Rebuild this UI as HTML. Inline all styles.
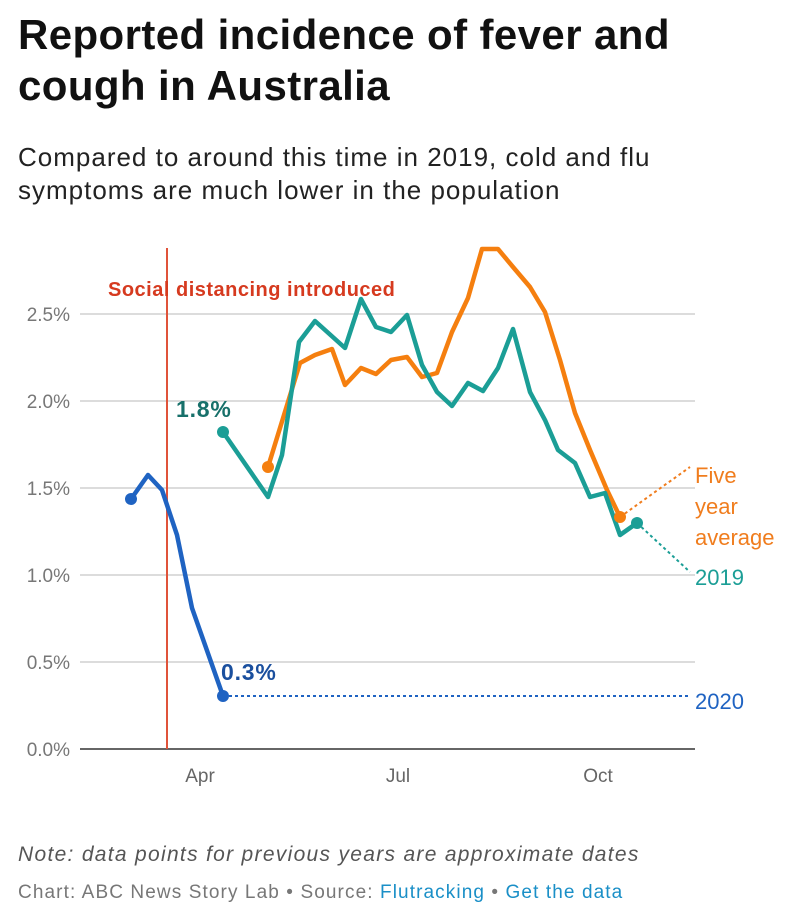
<!DOCTYPE html>
<html><head><meta charset="utf-8"><style>
body{margin:0;background:#fff;font-family:"Liberation Sans",sans-serif;}
.t{position:absolute;left:18px;top:9px;font-size:42px;font-weight:bold;line-height:51px;color:#111;letter-spacing:0.4px}
.s{position:absolute;left:18px;top:141px;font-size:26px;line-height:33px;color:#222;letter-spacing:1px}
</style></head><body>
<div class="t">Reported incidence of fever and<br>cough in Australia</div>
<div class="s">Compared to around this time in 2019, cold and flu<br>symptoms are much lower in the population</div>
<svg width="795" height="916" style="position:absolute;left:0;top:0" font-family="Liberation Sans, sans-serif">
<g stroke="#d0d0d0" stroke-width="1.5">
<line x1="80" x2="695" y1="314" y2="314"/><line x1="80" x2="695" y1="401" y2="401"/><line x1="80" x2="695" y1="488" y2="488"/><line x1="80" x2="695" y1="575" y2="575"/><line x1="80" x2="695" y1="662" y2="662"/>
</g>
<line x1="80" x2="695" y1="749" y2="749" stroke="#333" stroke-width="1.5"/>
<g font-size="19" fill="#777" text-anchor="end">
<text x="70" y="321">2.5%</text><text x="70" y="408">2.0%</text><text x="70" y="495">1.5%</text><text x="70" y="582">1.0%</text><text x="70" y="669">0.5%</text><text x="70" y="756">0.0%</text>
</g>
<g font-size="19" fill="#666" text-anchor="middle"><text x="200" y="782">Apr</text><text x="398" y="782">Jul</text><text x="598" y="782">Oct</text></g>
<line x1="167" x2="167" y1="248" y2="749" stroke="#e0533a" stroke-width="2"/>
<text x="108" y="296" font-size="20" font-weight="bold" fill="#d63a1f" letter-spacing="0.5">Social distancing introduced</text>
<g fill="none" stroke-width="2" stroke-dasharray="3,3">
<line x1="620" y1="517" x2="690" y2="467" stroke="#f07d1e"/>
<line x1="637" y1="523" x2="690" y2="572" stroke="#1b9e96"/>
<line x1="223" y1="696" x2="690" y2="696" stroke="#1f63c2"/>
</g>
<g fill="none" stroke-width="4.5" stroke-linejoin="round" stroke-linecap="round">
<polyline stroke="#f57f0f" points="268,467 300,363 315,355 332,349 345,385 361,368 376,374 391,360 407,357 422,377 437,373 452,332 468,298 482,249 498,249 513,267 530,287 545,312 560,360 575,413 590,450 607,490 620,517"/>
<polyline stroke="#1b9e96" points="223,432 268,497 282,455 299,342 315,321 345,348 361,299 376,327 391,332 407,315 422,365 437,392 452,406 468,383 483,391 498,368 513,329 530,392 545,420 558,450 575,463 590,497 605,493 620,535 637,523"/>
<polyline stroke="#1f63c2" points="131,499 148,475 162,490 177,535 192,608 223,696"/>
</g>
<circle cx="268" cy="467" r="6" fill="#f57f0f"/><circle cx="620" cy="517" r="6" fill="#f57f0f"/>
<circle cx="223" cy="432" r="6" fill="#1b9e96"/><circle cx="637" cy="523" r="6" fill="#1b9e96"/>
<circle cx="131" cy="499" r="6" fill="#1f63c2"/><circle cx="223" cy="696" r="6" fill="#1f63c2"/>
<text x="176" y="417" font-size="23" font-weight="bold" fill="#17706a" letter-spacing="0.8">1.8%</text>
<text x="221" y="680" font-size="23" font-weight="bold" fill="#1a4f9e" letter-spacing="0.8">0.3%</text>
<g font-size="22" fill="#f07d1e"><text x="695" y="483">Five</text><text x="695" y="514">year</text><text x="695" y="545">average</text></g>
<text x="695" y="585" font-size="22" fill="#1b9e96">2019</text>
<text x="695" y="709" font-size="22" fill="#1f63c2">2020</text>
<text x="18" y="861" font-size="21" font-style="italic" fill="#555" letter-spacing="1.3">Note: data points for previous years are approximate dates</text>
<text x="18" y="898" font-size="19" fill="#777" letter-spacing="1.1">Chart: ABC News Story Lab • Source: <tspan fill="#1a8fc7">Flutracking</tspan> • <tspan fill="#1a8fc7">Get the data</tspan></text>
</svg>
</body></html>
